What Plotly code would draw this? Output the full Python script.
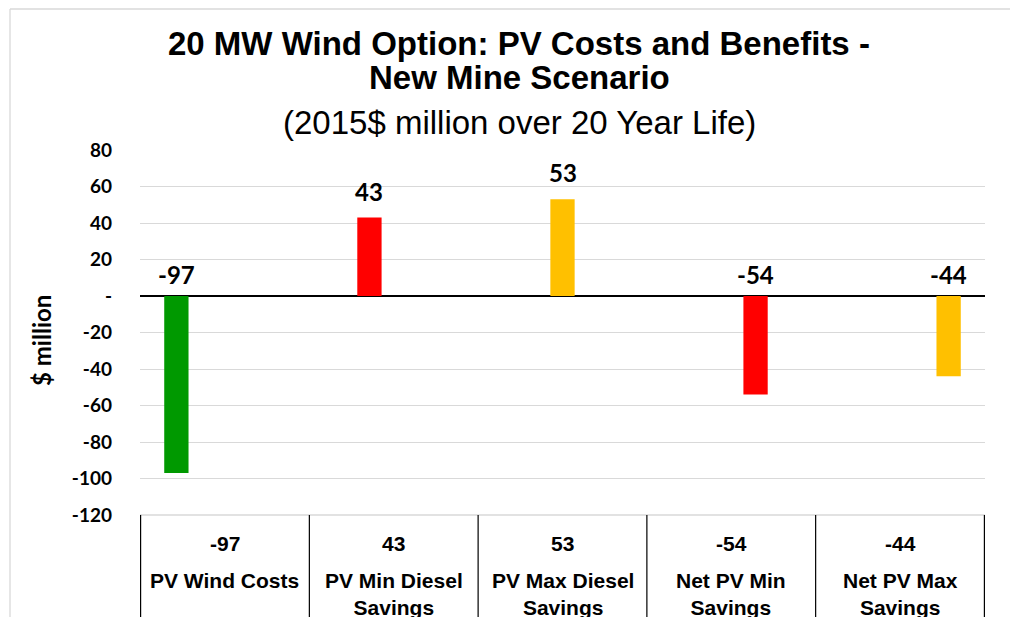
import plotly.graph_objects as go

categories = ["PV Wind Costs", "PV Min Diesel Savings", "PV Max Diesel Savings",
              "Net PV Min Savings", "Net PV Max Savings"]
category_labels = ["PV Wind Costs", "PV Min Diesel<br>Savings", "PV Max Diesel<br>Savings",
                   "Net PV Min<br>Savings", "Net PV Max<br>Savings"]
values = [-97, 43, 53, -54, -44]
colors = ["#009900", "#FF0000", "#FFC000", "#FF0000", "#FFC000"]
y_tick_vals = [80, 60, 40, 20, 0, -20, -40, -60, -80, -100, -120]
y_tick_text = ["80", "60", "40", "20", "-", "-20", "-40", "-60", "-80", "-100", "-120"]

# page is drawn with an 8px body margin, so the figure is offset by 8px
OFF = 8
W, H = 1018 - OFF, 617 - OFF
PLOT_L, PLOT_R, PLOT_T, PLOT_B = 140, 985, 150, 515   # page pixel coords of plot area
L, T = PLOT_L - OFF, PLOT_T - OFF
R = W - (PLOT_R - OFF)
B = H - (PLOT_B - OFF)
plot_h = PLOT_B - PLOT_T
plot_w = PLOT_R - PLOT_L
bargap = 0.28
n = len(categories)
barw = (1 - bargap) / n

def py(ypage):
    return (PLOT_B - ypage) / plot_h

def px(xpage):
    return (xpage - PLOT_L) / plot_w

fig = go.Figure()
for i, (cat, v, c) in enumerate(zip(categories, values, colors)):
    yv = [v if j == i else None for j in range(n)]
    fig.add_trace(go.Bar(x=categories, y=yv, marker=dict(color=c, line=dict(width=0)),
                         name=cat, showlegend=False, hoverinfo="skip"))

label_font = dict(family="Lato, Carlito, Calibri, sans-serif", size=24, color="#000000")
for i, v in enumerate(values):
    fig.add_annotation(x=i + (i - (n - 1) / 2) * barw, y=max(v, 0), xref="x", yref="y",
                       text=f"<b>{v}</b>", showarrow=False, xanchor="center", yanchor="bottom",
                       yshift=10 if v > 0 else 5, font=label_font)

table_font = dict(family="Liberation Sans, Arial, sans-serif", size=21, color="#000000")
for i, (lab, v) in enumerate(zip(category_labels, values)):
    fig.add_annotation(x=i, y=py(543), xref="x", yref="paper", text=f"<b>{v}</b>",
                       showarrow=False, xanchor="center", yanchor="middle", font=table_font)
    fig.add_annotation(x=i, y=py(567), xref="x", yref="paper", text=f"<b>{lab}</b>",
                       showarrow=False, xanchor="center", yanchor="top", font=table_font)

for k in range(n + 1):
    fig.add_shape(type="line", xref="x", yref="paper", x0=k - 0.5, x1=k - 0.5,
                  y0=0, y1=py(630), line=dict(color="#000000", width=1.2))
fig.add_shape(type="line", xref="paper", yref="paper", x0=0, x1=1, y0=0, y1=0,
              line=dict(color="#d9d9d9", width=1.3), layer="below")
# chart frame
fig.add_shape(type="line", xref="paper", yref="paper", x0=px(10), x1=px(10), y0=py(OFF + 1), y1=py(630),
              line=dict(color="#d9d9d9", width=1.3))
fig.add_shape(type="line", xref="paper", yref="paper", x0=px(10), x1=px(1030), y0=py(OFF + 1), y1=py(OFF + 1),
              line=dict(color="#d9d9d9", width=1.3))

title_font = "Liberation Sans, Arial, sans-serif"
fig.add_annotation(xref="paper", yref="paper", x=px(519), y=py(43), showarrow=False,
                   text="<b>20 MW Wind Option: PV Costs and Benefits -</b>", xanchor="center",
                   font=dict(family=title_font, size=33, color="#000000"), yanchor="middle")
fig.add_annotation(xref="paper", yref="paper", x=px(519), y=py(78), showarrow=False,
                   text="<b>New Mine Scenario</b>", xanchor="center",
                   font=dict(family=title_font, size=33, color="#000000"), yanchor="middle")
fig.add_annotation(xref="paper", yref="paper", x=px(519), y=py(123), showarrow=False,
                   text="(2015$ million over 20 Year Life)", xanchor="center",
                   font=dict(family=title_font, size=33, color="#000000"), yanchor="middle")

fig.add_annotation(xref="paper", yref="paper", x=px(41), y=py(341), showarrow=False,
                   text="<b>$ million</b>", textangle=-90, xanchor="center", yanchor="middle",
                   font=dict(family="Lato, Carlito, Calibri, sans-serif", size=24, color="#000000"))

fig.update_layout(
    width=W, height=H,
    margin=dict(l=L, r=R, t=T, b=B, pad=0),
    paper_bgcolor="white", plot_bgcolor="white",
    barmode="group", bargap=bargap, bargroupgap=0,
    showlegend=False,
    xaxis=dict(showticklabels=False, showgrid=False, zeroline=False, showline=False, ticks=""),
    yaxis=dict(range=[-120, 80], tickvals=y_tick_vals, ticktext=y_tick_text,
               showgrid=True, gridcolor="#d9d9d9", gridwidth=1.3,
               zeroline=True, zerolinecolor="#000000", zerolinewidth=1.6,
               showline=False, ticks="", ticklabelstandoff=27,
               tickfont=dict(family="Lato, Carlito, Calibri, sans-serif", size=19,
                             color="#000000", weight="bold")),
)

fig.write_html("out.html")
